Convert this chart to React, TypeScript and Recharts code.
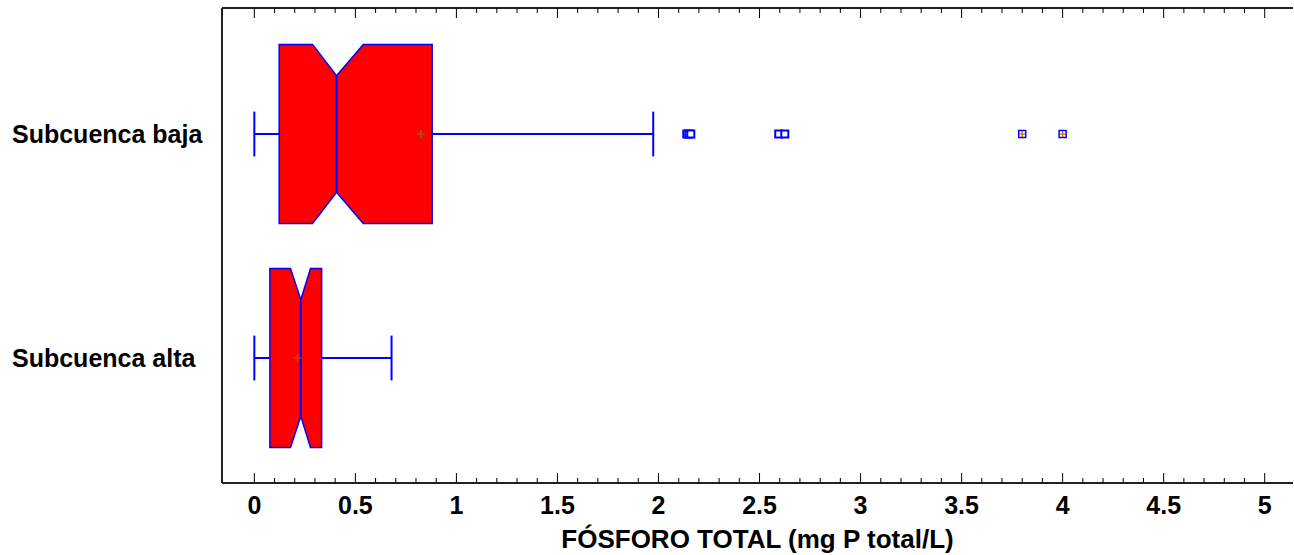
import React from 'react';
import { ScatterChart, Scatter, XAxis, YAxis, ReferenceLine, Label } from 'recharts';

// two notched boxes
const groups = ['Subcuenca alta', 'Subcuenca baja'];
const groupPos = [1, 2];
const whiskerLow = [0.0, 0.0];
const q1 = [0.077, 0.123];
const notchLow = [0.179, 0.288];
const median = [0.23, 0.407];
const notchHigh = [0.278, 0.539];
const q3 = [0.333, 0.88];
const whiskerHigh = [0.679, 1.974];
const means = [0.214, 0.824];
const outliersBaja = [2.14, 2.15, 2.16, 2.595, 2.625];
const farOutliersBaja = [3.8, 4.0];
const majorTicks = [0, 0.5, 1, 1.5, 2, 2.5, 3, 3.5, 4, 4.5, 5];
const minorTicks = Array.from({ length: 51 }, (_, i) => i / 10);

const FONT = '"Liberation Sans", Arial, sans-serif';
const BLUE = '#0000ff';
const HALF = 0.4;
const NOTCH = 0.14;
const CAP = 0.1;

const boxOutline = (i: number) => {
  const c = groupPos[i];
  const t = c + HALF;
  const b = c - HALF;
  return [
    { x: q1[i], y: t },
    { x: notchLow[i], y: t },
    { x: median[i], y: t - NOTCH },
    { x: notchHigh[i], y: t },
    { x: q3[i], y: t },
    { x: q3[i], y: b },
    { x: notchHigh[i], y: b },
    { x: median[i], y: b + NOTCH },
    { x: notchLow[i], y: b },
    { x: q1[i], y: b },
  ];
};

const medianSegment = (i: number) => [
  { x: median[i], y: groupPos[i] - HALF + NOTCH },
  { x: median[i], y: groupPos[i] + HALF - NOTCH },
];

const meanData = means.map((m, i) => ({ x: m, y: groupPos[i] }));
const outlierData = outliersBaja.map((x) => ({ x, y: 2 }));
const farData = farOutliersBaja.map((x) => ({ x, y: 2 }));

const isMajor = (v: number) => majorTicks.some((m) => Math.abs(m - v) < 1e-6);

const BottomTick = (props: any) => {
  const { x, y, payload } = props;
  const major = isMajor(payload.value);
  return (
    <g>
      <line x1={x} x2={x} y1={y} y2={y - (major ? 10 : 5)} stroke="#000" strokeWidth={1} />
      {major && (
        <text x={x} y={y + 31} textAnchor="middle" fontFamily={FONT} fontWeight="bold" fontSize={25} fill="#000">
          {String(Math.round(payload.value * 10) / 10)}
        </text>
      )}
    </g>
  );
};

const TopTick = (props: any) => {
  const { x, y, payload } = props;
  const major = isMajor(payload.value);
  return <line x1={x} x2={x} y1={y} y2={y + (major ? 10 : 5)} stroke="#000" strokeWidth={1} />;
};

const GroupTick = (props: any) => {
  const { y, payload } = props;
  const idx = groupPos.indexOf(payload.value);
  return (
    <text x={12} y={y} dy="0.35em" textAnchor="start" fontFamily={FONT} fontWeight="bold" fontSize={25} fill="#000">
      {groups[idx]}
    </text>
  );
};

const Empty = () => <g />;

const MeanMark = (props: any) => {
  const { cx, cy } = props;
  return (
    <g stroke="#8b6a1a" strokeWidth={1.2}>
      <line x1={cx - 4} x2={cx + 4} y1={cy} y2={cy} />
      <line x1={cx} x2={cx} y1={cy - 4} y2={cy + 4} />
    </g>
  );
};

const OutlierMark = (props: any) => {
  const { cx, cy } = props;
  return <rect x={cx - 3.5} y={cy - 3.5} width={7} height={7} fill="#fff" stroke={BLUE} strokeWidth={2} />;
};

const FarOutlierMark = (props: any) => {
  const { cx, cy } = props;
  return (
    <g>
      <rect x={cx - 3.5} y={cy - 3.5} width={7} height={7} fill="#fff" stroke={BLUE} strokeWidth={1.5} />
      <line x1={cx - 3} x2={cx + 3} y1={cy} y2={cy} stroke="#c0600a" strokeWidth={1.2} />
      <line x1={cx} x2={cx} y1={cy - 3} y2={cy + 3} stroke="#c0600a" strokeWidth={1.2} />
    </g>
  );
};

const boxLine = (p: any) => (
  <polygon
    points={p.points.map((pt: any) => `${pt.x},${pt.y}`).join(' ')}
    fill="#ff0000"
    stroke={BLUE}
    strokeWidth={1.5}
  />
);

const medianLine = (p: any) => (
  <line
    x1={p.points[0].x}
    y1={p.points[0].y}
    x2={p.points[1].x}
    y2={p.points[1].y}
    stroke={BLUE}
    strokeWidth={2}
  />
);

export default function App() {
  return (
    <div style={{ position: 'absolute', left: 0, top: 0, background: '#fff' }}>
      <ScatterChart width={1294} height={555} margin={{ top: 0, right: 1, bottom: 0, left: 0 }}>
        <XAxis
          xAxisId="top"
          orientation="top"
          type="number"
          dataKey="x"
          domain={[-0.16, 5.14]}
          allowDataOverflow
          ticks={minorTicks}
          interval={0}
          height={8}
          tickSize={0}
          tickMargin={0}
          tick={<TopTick />}
          axisLine={{ stroke: '#222', strokeWidth: 2 }}
          tickLine={false}
        />
        <XAxis
          type="number"
          dataKey="x"
          domain={[-0.16, 5.14]}
          allowDataOverflow
          ticks={minorTicks}
          interval={0}
          height={72}
          tickSize={0}
          tickMargin={0}
          tick={<BottomTick />}
          axisLine={{ stroke: '#222', strokeWidth: 2 }}
          tickLine={false}
        >
          <Label
            value="FÓSFORO TOTAL (mg P total/L)"
            position="insideBottom"
            offset={7}
            fill="#000"
            fontFamily={FONT}
            fontWeight="bold"
            fontSize={26}
          />
        </XAxis>
        <YAxis
          type="number"
          dataKey="y"
          domain={[0.442, 2.5625]}
          allowDataOverflow
          ticks={groupPos}
          interval={0}
          width={222}
          tick={<GroupTick />}
          tickLine={false}
          axisLine={{ stroke: '#222', strokeWidth: 2 }}
        />

        {groups.map((g, i) => (
          <ReferenceLine
            key={`wl-${g}`}
            segment={[
              { x: whiskerLow[i], y: groupPos[i] },
              { x: q1[i], y: groupPos[i] },
            ]}
            stroke={BLUE}
            strokeWidth={2}
          />
        ))}
        {groups.map((g, i) => (
          <ReferenceLine
            key={`wh-${g}`}
            segment={[
              { x: q3[i], y: groupPos[i] },
              { x: whiskerHigh[i], y: groupPos[i] },
            ]}
            stroke={BLUE}
            strokeWidth={2}
          />
        ))}
        {groups.map((g, i) => (
          <ReferenceLine
            key={`cl-${g}`}
            segment={[
              { x: whiskerLow[i], y: groupPos[i] - CAP },
              { x: whiskerLow[i], y: groupPos[i] + CAP },
            ]}
            stroke={BLUE}
            strokeWidth={2}
          />
        ))}
        {groups.map((g, i) => (
          <ReferenceLine
            key={`ch-${g}`}
            segment={[
              { x: whiskerHigh[i], y: groupPos[i] - CAP },
              { x: whiskerHigh[i], y: groupPos[i] + CAP },
            ]}
            stroke={BLUE}
            strokeWidth={2}
          />
        ))}

        {groups.map((g, i) => (
          <Scatter
            key={`box-${g}`}
            data={boxOutline(i)}
            shape={<Empty />}
            line={boxLine}
            lineType="joint"
            isAnimationActive={false}
          />
        ))}
        {groups.map((g, i) => (
          <Scatter
            key={`med-${g}`}
            data={medianSegment(i)}
            shape={<Empty />}
            line={medianLine}
            lineType="joint"
            isAnimationActive={false}
          />
        ))}

        <Scatter data={meanData} shape={<MeanMark />} isAnimationActive={false} />
        <Scatter data={outlierData} shape={<OutlierMark />} isAnimationActive={false} />
        <Scatter data={farData} shape={<FarOutlierMark />} isAnimationActive={false} />
      </ScatterChart>
    </div>
  );
}
